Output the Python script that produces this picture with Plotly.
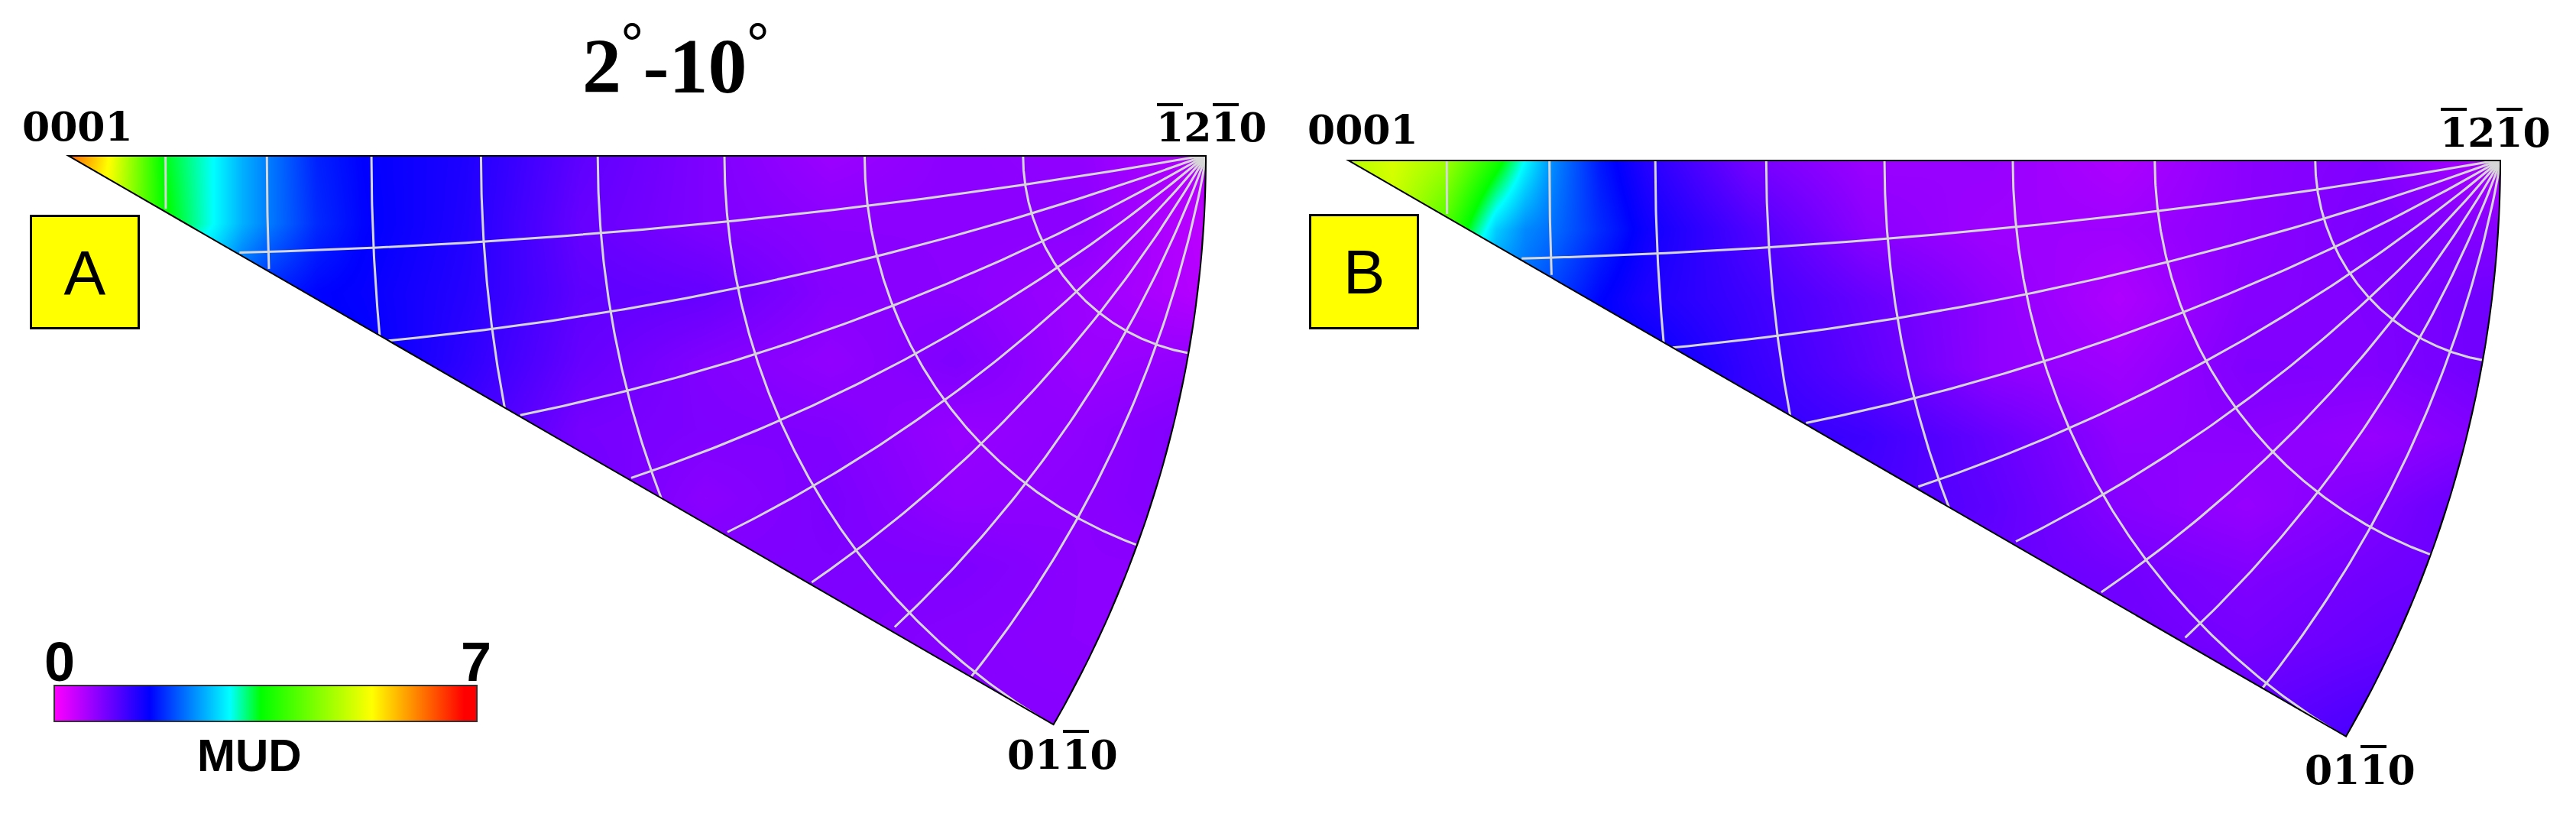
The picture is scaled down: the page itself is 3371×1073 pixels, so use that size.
import numpy as np
import plotly.graph_objects as go

# the page body keeps its 8px margin, so the figure sits inside that
PAGE = 8
W, H = 3371 - 2 * PAGE, 1073 - 2 * PAGE

# ----- data: MUD, on a stereographic x/y grid -----
grid_x = [0, .04, .085, .13, .155, .18, .22, .26, .35, .45, .56, .67, .78, .89, 1]
grid_y = [0, .06, .12, .18, .24, .3, .36, .42, .5]

mud_a = [
    [6.3, 5.2, 3.4, 2.9, 2.5, 2.2, 1.75, 1.58, 1.4, 1.0, .8, .62, .72, .68, .45],
    [5.5, 5.0, 3.5, 2.9, 2.5, 2.2, 1.8, 1.6, 1.38, .95, .8, .72, .72, .72, .4],
    [3.2, 3.0, 2.8, 2.4, 2.0, 1.75, 1.6, 1.55, 1.35, 1.0, .95, .75, .72, .62, .45],
    [1.6, 1.6, 1.6, 1.6, 1.6, 1.6, 1.6, 1.6, 1.3, .95, .78, .68, .8, .62, .68],
    [1.2, 1.2, 1.2, 1.2, 1.2, 1.2, 1.2, 1.2, 1.2, .85, .8, .78, .65, .7, .8],
    [.9, .9, .9, .9, .9, .9, .9, .9, .9, .9, .72, .82, .68, .72, .8],
    [.8, .8, .8, .8, .8, .8, .8, .8, .8, .8, .8, .8, .8, .72, .72],
    [.8, .8, .8, .8, .8, .8, .8, .8, .8, .8, .8, .8, .75, .72, .7],
    [.75, .75, .75, .75, .75, .75, .75, .75, .75, .75, .75, .75, .75, .75, .75],
]
mud_b = [
    [4.7, 5.0, 4.6, 3.6, 2.9, 2.3, 1.7, 1.35, .85, .62, .65, .5, .72, .79, .45],
    [4.7, 4.8, 4.0, 2.65, 2.3, 2.15, 1.8, 1.5, 1.1, .72, .6, .6, .72, .82, .75],
    [2.5, 2.4, 2.3, 2.2, 2.1, 1.9, 1.6, 1.4, 1.2, .95, .69, .5, .75, .79, .9],
    [1.6, 1.6, 1.6, 1.6, 1.6, 1.6, 1.6, 1.6, 1.25, 1.0, .69, .6, .79, .78, .9],
    [1.3, 1.3, 1.3, 1.3, 1.3, 1.3, 1.3, 1.3, 1.3, 1.2, .95, .69, .72, .65, .8],
    [1.15, 1.15, 1.15, 1.15, 1.15, 1.15, 1.15, 1.15, 1.15, 1.15, 1.0, .75, .65, .8, 1.0],
    [.95, .95, .95, .95, .95, .95, .95, .95, .95, .95, .95, .88, .79, .88, .95],
    [.9, .9, .9, .9, .9, .9, .9, .9, .9, .9, .9, .9, .85, .95, 1.05],
    [1.0, 1.0, 1.0, 1.0, 1.0, 1.0, 1.0, 1.0, 1.0, 1.0, 1.0, 1.0, 1.0, 1.15, 1.2],
]

mud_scale = [[0, '#ff00ff'], [.226, '#0000ff'], [.416, '#00ffff'], [.489, '#00ff00'],
             [.752, '#ffff00'], [.97, '#ff0000'], [1, '#ff0000']]

# graticule angles in degrees
lat_deg = [10, 20, 30, 40, 50, 60, 70, 80]
lon_deg = [10, 20, 30, 40, 50, 60, 70, 80]
edge_tan = np.tan(np.radians(30))

# pixel placement of each triangle: 0001 corner and radius
panels = [
    dict(name='A', x0=86, y0=203, R=1493, mud=mud_a, xa='x', ya='y'),
    dict(name='B', x0=1761, y0=209, R=1512, mud=mud_b, xa='x2', ya='y2'),
]
# axis ranges run past the heatmap so its edges stay under the white mask
pad_lo, pad_hi = .05, .058
y_top = .56


def fx(px):
    return (px - PAGE) / W


def fy(py):
    return 1 - (py - PAGE) / H


def stereo(alpha, phi):
    # alpha from the 12-10 pole, phi about that pole, 0 along the top edge
    x = np.cos(alpha)
    y = np.sin(alpha) * np.sin(phi)
    z = np.sin(alpha) * np.cos(phi)
    keep = y <= x * edge_tan + 1e-9
    return (x / (1 + z))[keep], (y / (1 + z))[keep]


fig = go.Figure()
shapes = []
for p in panels:
    fig.add_trace(go.Heatmap(x=grid_x, y=grid_y, z=p['mud'], coloraxis='coloraxis',
                             zsmooth='best', hoverinfo='skip', xaxis=p['xa'], yaxis=p['ya']))

    # white mask round the wedge, the heatmap grid is a rectangle
    arc = np.radians(np.linspace(0, 30, 80))
    arc_x, arc_y = np.cos(arc), np.sin(arc)
    wedge = 'M0,0 ' + ' '.join(f'L{a:.5f},{b:.5f}' for a, b in zip(arc_x, arc_y)) + ' Z'
    frame = (f'M{-pad_lo},{-pad_lo} L{1 + pad_hi},{-pad_lo} L{1 + pad_hi},{y_top} '
             f'L{-pad_lo},{y_top} Z ')
    shapes.append(dict(type='path', path=frame + wedge, xref=p['xa'], yref=p['ya'],
                       fillcolor='white', fillrule='evenodd', line=dict(width=0), layer='above'))

    for a in lat_deg:
        phi = np.radians(np.linspace(0, 90, 200))
        lx, ly = stereo(np.radians(90 - a) * np.ones_like(phi), phi)
        fig.add_trace(go.Scatter(x=lx, y=ly, mode='lines', line=dict(color='#d6d6d6', width=3),
                                 hoverinfo='skip', xaxis=p['xa'], yaxis=p['ya']))
    for b in lon_deg:
        alpha = np.radians(np.linspace(0, 90, 200))
        lx, ly = stereo(alpha, np.radians(b) * np.ones_like(alpha))
        fig.add_trace(go.Scatter(x=lx, y=ly, mode='lines', line=dict(color='#d6d6d6', width=3),
                                 hoverinfo='skip', xaxis=p['xa'], yaxis=p['ya']))

    out_x = [0, *arc_x, 0]
    out_y = [0, *arc_y, 0]
    fig.add_trace(go.Scatter(x=out_x, y=out_y, mode='lines', line=dict(color='black', width=4),
                             hoverinfo='skip', cliponaxis=False, xaxis=p['xa'], yaxis=p['ya']))

axes = {}
for i, p in enumerate(panels):
    suffix = '' if i == 0 else '2'
    left = p['x0'] - pad_lo * p['R']
    right = p['x0'] + (1 + pad_hi) * p['R']
    top = p['y0'] - pad_lo * p['R']
    bottom = p['y0'] + y_top * p['R']
    axes['xaxis' + suffix] = dict(domain=[fx(left), fx(right)], range=[-pad_lo, 1 + pad_hi],
                                  visible=False, anchor='y' + suffix)
    axes['yaxis' + suffix] = dict(domain=[fy(bottom), fy(top)], range=[y_top, -pad_lo],
                                  visible=False, anchor='x' + suffix)

miller_a = '0001'
miller_b = '1210'
miller_c = '0110'
serif = dict(family='DejaVu Serif', size=52, color='black', weight=700)
labels = [(101, 166, miller_a), (1585, 167, miller_b), (1390, 987, miller_c),
          (1784, 169, miller_a), (3265, 173, miller_b), (3088, 1007, miller_c)]
# overbars on the Miller indices: offset of each bar from the label centre
bars = {miller_a: [], miller_b: [(-71, -37), (2, 36)], miller_c: [(1, 35)]}


def note(px, py, text, font, **kw):
    return dict(x=fx(px), y=fy(py), xref='paper', yref='paper', text=text, showarrow=False,
                xanchor='center', yanchor='middle', font=font, **kw)


notes = []
for px, py, t in labels:
    notes.append(note(px, py, t, serif))
    for b0, b1 in bars[t]:
        shapes.append(dict(type='line', xref='paper', yref='paper', x0=fx(px + b0), x1=fx(px + b1),
                           y0=fy(py - 30), y1=fy(py - 30), line=dict(color='black', width=4)))

notes.append(note(884, 78, '2<sup>°</sup>-10<sup>°</sup>',
                  dict(family='Liberation Serif', size=102, color='black', weight=700)))
box_font = dict(family='Liberation Sans', size=82, color='black')
notes.append(note(111, 356, 'A', box_font, width=138, height=144, bgcolor='#ffff00',
                  bordercolor='black', borderwidth=3, borderpad=0, valign='middle'))
notes.append(note(1785, 355, 'B', box_font, width=138, height=145, bgcolor='#ffff00',
                  bordercolor='black', borderwidth=3, borderpad=0, valign='middle'))

bar_font = dict(family='Liberation Sans', size=72, color='black', weight=700)
notes.append(note(78, 866, '0', bar_font))
notes.append(note(623, 866, '7', bar_font))
notes.append(note(326, 988, 'MUD', dict(family='Liberation Sans', size=60, color='black', weight=700)))

fig.update_layout(
    width=W, height=H, margin=dict(l=0, r=0, t=0, b=0), autosize=False,
    paper_bgcolor='white', plot_bgcolor='white', showlegend=False,
    shapes=shapes, annotations=notes,
    coloraxis=dict(
        cmin=0, cmax=7, colorscale=mud_scale,
        colorbar=dict(
            orientation='h', x=fx(71), xanchor='left', y=fy(946), yanchor='bottom',
            lenmode='pixels', len=553, thickness=47, thicknessmode='pixels',
            outlinecolor='#333333', outlinewidth=2, xpad=0, ypad=0,
            ticks='', showticklabels=False,
        ),
    ),
    **axes,
)

fig.write_html("out.html")
